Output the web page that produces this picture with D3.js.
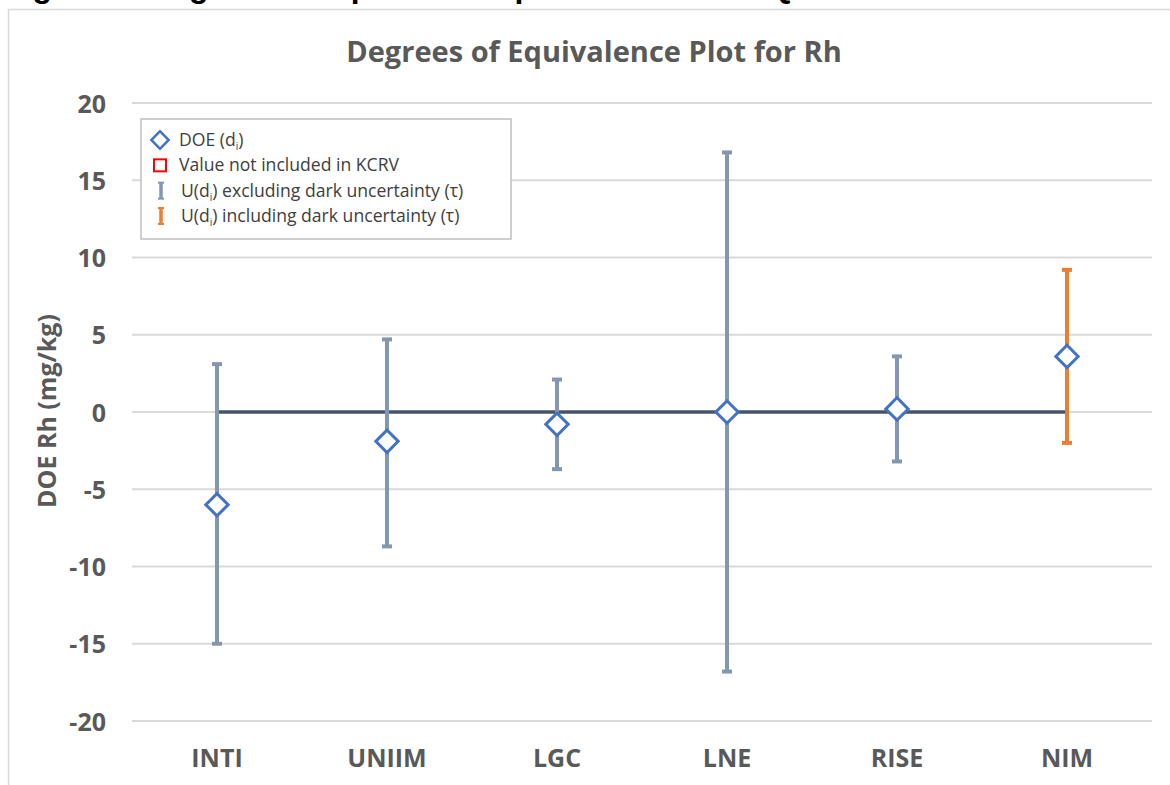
<!DOCTYPE html>
<html>
<head>
<meta charset="utf-8">
<script src="https://cdn.jsdelivr.net/npm/d3@7"></script>
<style>
  body { margin: 0; background: #fff; }
  svg { display: block; font-family: "Open Sans", Lato, sans-serif; }
</style>
</head>
<body>
<svg id="chart" width="1170" height="785"></svg>
<script>
// data
const labs = ["INTI", "UNIIM", "LGC", "LNE", "RISE", "NIM"];
const doe = [-6.0, -1.9, -0.8, 0.0, 0.2, 3.6];
const upper = [3.1, 4.7, 2.1, 16.8, 3.6, 9.2];
const lower = [-15.0, -8.7, -3.7, -16.8, -3.2, -2.0];
const withTau = [false, false, false, false, false, true];
const yTicks = [20, 15, 10, 5, 0, -5, -10, -15, -20];

const svg = d3.select("#chart");
const font = "'Open Sans', Lato, sans-serif";

// caption of the page, cut off at the top (only descenders show)
svg.append("text")
  .attr("x", 4).attr("y", -3)
  .attr("font-family", "Liberation Sans, Arial, sans-serif")
  .attr("font-weight", "bold").attr("font-size", 32).attr("fill", "#000")
  .text("Figure 7: Degrees of equivalence plot for Rh in CCQM-K160");

// chart frame
svg.append("rect")
  .attr("x", 8.5).attr("y", 9.5).attr("width", 1200).attr("height", 800)
  .attr("fill", "#fff").attr("stroke", "#d9d9d9").attr("stroke-width", 1.5);

const x = d3.scaleBand().domain(labs).range([132, 1152]);
const y = d3.scaleLinear().domain([-20, 20]).range([721, 103]);
const cx = d => x(d) + x.bandwidth() / 2;

// title
svg.append("text")
  .attr("x", 594).attr("y", 62).attr("text-anchor", "middle")
  .attr("font-size", 29).attr("font-weight", "bold").attr("fill", "#595959")
  .text("Degrees of Equivalence Plot for Rh");

// grid
svg.append("g").selectAll("line").data(yTicks).join("line")
  .attr("x1", 132).attr("x2", 1152)
  .attr("y1", d => y(d)).attr("y2", d => y(d))
  .attr("stroke", "#d9d9d9").attr("stroke-width", 2);

// y axis labels
const yAxis = svg.append("g").attr("transform", "translate(106,1)")
  .call(d3.axisLeft(y).tickValues(yTicks).tickSize(0).tickPadding(0).tickFormat(d => String(d)));
yAxis.select(".domain").remove();
yAxis.selectAll("text")
  .attr("font-family", font)
  .attr("font-size", 25).attr("font-weight", "bold").attr("fill", "#595959");

// x axis labels
const xAxis = svg.append("g").attr("transform", "translate(0,749)")
  .call(d3.axisBottom(x).tickSize(0).tickPadding(0));
xAxis.select(".domain").remove();
xAxis.selectAll("text")
  .attr("font-family", font)
  .attr("font-size", 25).attr("font-weight", "bold").attr("fill", "#595959");

// y axis title
svg.append("text")
  .attr("transform", "translate(56,411) rotate(-90)")
  .attr("text-anchor", "middle")
  .attr("font-size", 25).attr("font-weight", "bold").attr("fill", "#595959")
  .text("DOE Rh (mg/kg)");

// KCRV reference line
svg.append("line")
  .attr("x1", cx(labs[0])).attr("x2", cx(labs[labs.length - 1]))
  .attr("y1", y(0)).attr("y2", y(0))
  .attr("stroke", "#44546a").attr("stroke-width", 3.5);

// error bars
const rows = labs.map((l, i) => ({ l, v: doe[i], hi: upper[i], lo: lower[i], tau: withTau[i] }));
const bars = svg.append("g").selectAll("g").data(rows).join("g")
  .attr("stroke", d => d.tau ? "#ed7d31" : "#8497b0").attr("stroke-width", 4);
bars.append("line")
  .attr("x1", d => cx(d.l)).attr("x2", d => cx(d.l))
  .attr("y1", d => y(d.hi)).attr("y2", d => y(d.lo));
bars.append("line")
  .attr("x1", d => cx(d.l) - 5).attr("x2", d => cx(d.l) + 5)
  .attr("y1", d => y(d.hi)).attr("y2", d => y(d.hi));
bars.append("line")
  .attr("x1", d => cx(d.l) - 5).attr("x2", d => cx(d.l) + 5)
  .attr("y1", d => y(d.lo)).attr("y2", d => y(d.lo));

// DOE markers
const diamond = d3.symbol().type(d3.symbolSquare).size(250);
svg.append("g").selectAll("path").data(rows).join("path")
  .attr("d", diamond)
  .attr("transform", d => `translate(${cx(d.l)},${y(d.v)}) rotate(45)`)
  .attr("fill", "#fff").attr("stroke", "#4472c4").attr("stroke-width", 3);

// legend
const lg = svg.append("g");
lg.append("rect")
  .attr("x", 141).attr("y", 119).attr("width", 370).attr("height", 120)
  .attr("fill", "#fff").attr("stroke", "#bfbfbf").attr("stroke-width", 1.5);
const legRows = [
  { t: "DOE (d", sub: "i", tail: ")", k: "diamond" },
  { t: "Value not included in KCRV", k: "square" },
  { t: "U(d", sub: "i", tail: ") excluding dark uncertainty (τ)", k: "bar", c: "#8497b0" },
  { t: "U(d", sub: "i", tail: ") including dark uncertainty (τ)", k: "bar", c: "#ed7d31" }
];
const ly = d3.scalePoint().domain(d3.range(legRows.length)).range([140, 216]);
legRows.forEach((r, i) => {
  const yy = ly(i);
  if (r.k === "diamond") {
    lg.append("path").attr("d", d3.symbol().type(d3.symbolSquare).size(150))
      .attr("transform", `translate(160,${yy}) rotate(45)`)
      .attr("fill", "#fff").attr("stroke", "#4472c4").attr("stroke-width", 2.5);
  } else if (r.k === "square") {
    lg.append("rect").attr("x", 154).attr("y", yy - 6).attr("width", 12).attr("height", 12)
      .attr("fill", "#fff").attr("stroke", "#ff0000").attr("stroke-width", 2);
  } else {
    lg.append("line").attr("x1", 161).attr("x2", 161).attr("y1", yy - 8).attr("y2", yy + 8)
      .attr("stroke", r.c).attr("stroke-width", 3.5);
    lg.append("line").attr("x1", 158).attr("x2", 164).attr("y1", yy - 8).attr("y2", yy - 8)
      .attr("stroke", r.c).attr("stroke-width", 2);
    lg.append("line").attr("x1", 158).attr("x2", 164).attr("y1", yy + 8).attr("y2", yy + 8)
      .attr("stroke", r.c).attr("stroke-width", 2);
  }
  const tx = lg.append("text")
    .attr("x", r.k === "bar" ? 181 : 179).attr("y", yy + 6)
    .attr("font-family", font)
    .attr("font-size", 17.6).attr("fill", "#404040");
  tx.append("tspan").text(r.t);
  if (r.sub) {
    tx.append("tspan").attr("font-size", 10).attr("dy", 4).text(r.sub);
    tx.append("tspan").attr("dy", -4).text(r.tail);
  }
});
</script>
</body>
</html>
